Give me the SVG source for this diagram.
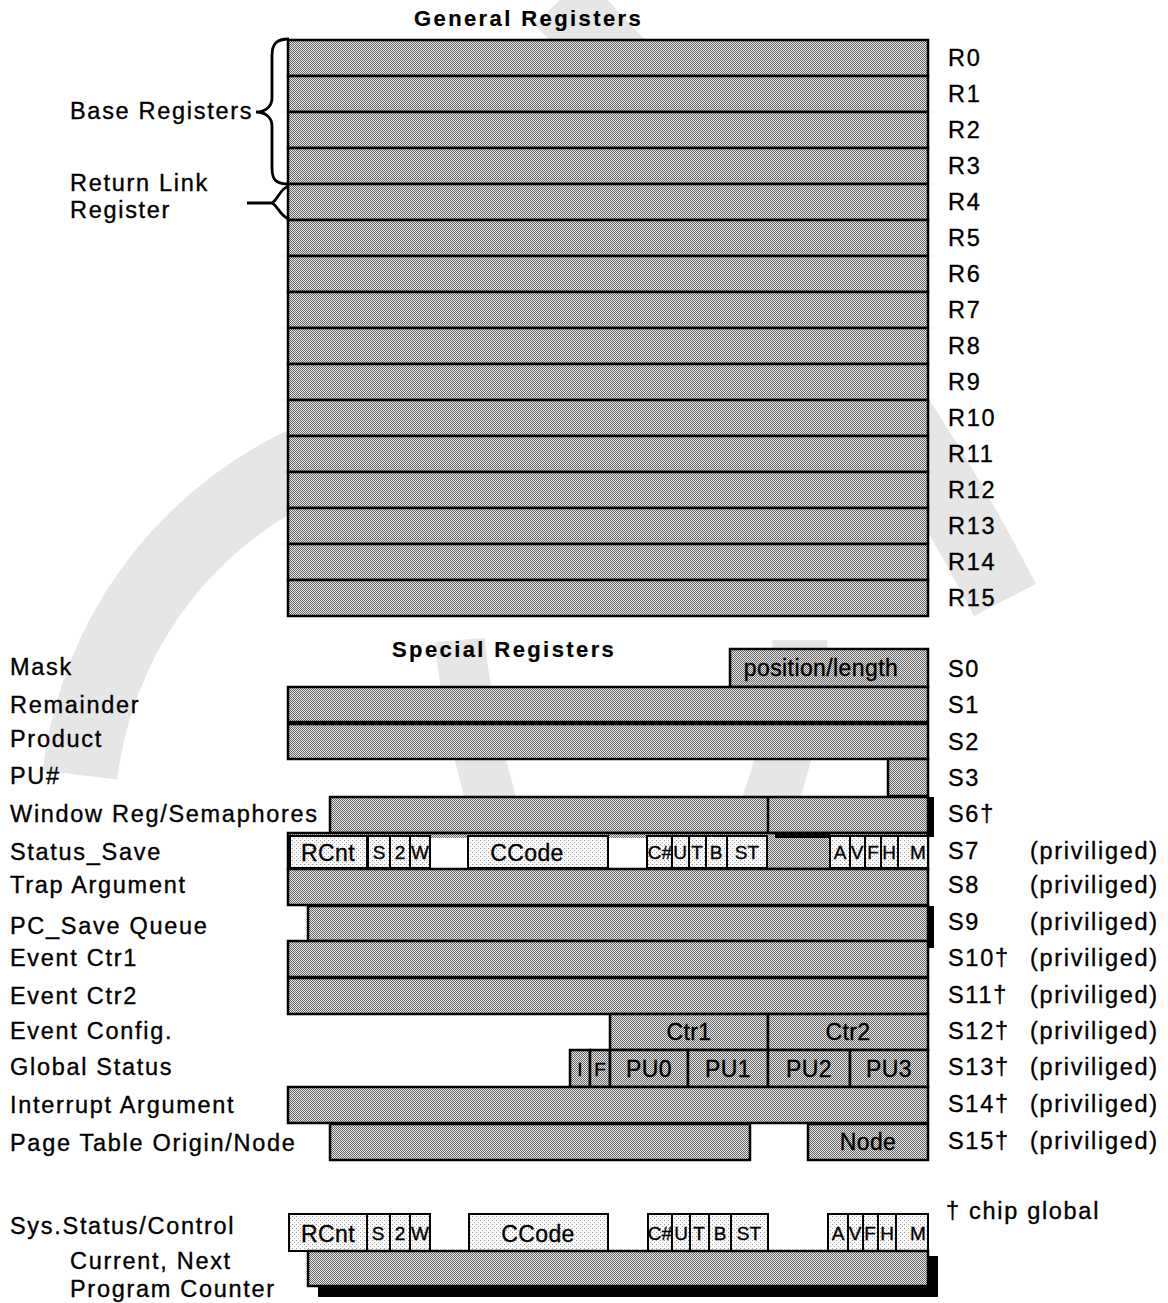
<svg xmlns="http://www.w3.org/2000/svg" width="1168" height="1303" viewBox="0 0 1168 1303">
<defs>
<pattern id="dot" width="2" height="2" patternUnits="userSpaceOnUse"><rect width="2" height="2" fill="#e8e8e8"/><rect width="1" height="1" fill="#666"/><rect x="1" y="1" width="1" height="1" fill="#666"/></pattern>
<pattern id="lite" width="4" height="4" patternUnits="userSpaceOnUse"><rect width="4" height="4" fill="#fafafa"/><rect width="1" height="1" fill="#9a9a9a"/><rect x="2" y="2" width="1" height="1" fill="#b0b0b0"/></pattern>
<style>
text{font-family:"Liberation Sans",Arial,sans-serif;font-size:23.5px;fill:#000;stroke:#000;stroke-width:0.35;letter-spacing:1.7px}
.t{font-weight:bold;font-size:22px;letter-spacing:2.4px;stroke-width:0.2}
.c{text-anchor:middle;letter-spacing:0.4px;font-size:23px}
.sm{font-size:19px;text-anchor:middle;letter-spacing:0}
.r{fill:url(#dot);stroke:#000;stroke-width:2.5}
.f{fill:url(#lite);stroke:#000;stroke-width:2}
.w{fill:#fff;stroke:none}
.blk{fill:#000}
.br{fill:none;stroke:#000;stroke-width:2.8}
</style>
</defs>
<rect width="1168" height="1303" fill="#fff"/>

<g id="watermark" fill="none" stroke="#808080" stroke-opacity="0.2">
<path d="M80,775 A395,395 0 0 1 420,430" stroke-width="75"/>
<path d="M560,0 C700,150 860,320 1005,600" stroke-width="70"/>
<path d="M420,60 C400,200 420,330 470,430" stroke-width="60"/>
<path d="M460,640 C470,760 520,900 560,1000" stroke-width="50"/>
<path d="M800,640 C800,800 700,950 615,1150" stroke-width="55"/>
</g>

<g id="general-registers">
<text class="t" x="414" y="26">General Registers</text>
<rect class="r" x="288" y="40" width="640" height="36"/>
<rect class="r" x="288" y="76" width="640" height="36"/>
<rect class="r" x="288" y="112" width="640" height="36"/>
<rect class="r" x="288" y="148" width="640" height="36"/>
<rect class="r" x="288" y="184" width="640" height="36"/>
<rect class="r" x="288" y="220" width="640" height="36"/>
<rect class="r" x="288" y="256" width="640" height="36"/>
<rect class="r" x="288" y="292" width="640" height="36"/>
<rect class="r" x="288" y="328" width="640" height="36"/>
<rect class="r" x="288" y="364" width="640" height="36"/>
<rect class="r" x="288" y="400" width="640" height="36"/>
<rect class="r" x="288" y="436" width="640" height="36"/>
<rect class="r" x="288" y="472" width="640" height="36"/>
<rect class="r" x="288" y="508" width="640" height="36"/>
<rect class="r" x="288" y="544" width="640" height="36"/>
<rect class="r" x="288" y="580" width="640" height="36"/>
<text x="948" y="66">R0</text>
<text x="948" y="102">R1</text>
<text x="948" y="138">R2</text>
<text x="948" y="174">R3</text>
<text x="948" y="210">R4</text>
<text x="948" y="246">R5</text>
<text x="948" y="282">R6</text>
<text x="948" y="318">R7</text>
<text x="948" y="354">R8</text>
<text x="948" y="390">R9</text>
<text x="948" y="426">R10</text>
<text x="948" y="462">R11</text>
<text x="948" y="498">R12</text>
<text x="948" y="534">R13</text>
<text x="948" y="570">R14</text>
<text x="948" y="606">R15</text>
</g>

<g id="base-registers">
<path class="br" d="M289,39 C276,39 272,44 272,56 L272,98 C272,106 266,112 256,112 C266,112 272,118 272,126 L272,168 C272,180 276,184 289,184"/>
<text x="70" y="119">Base Registers</text>
</g>
<g id="return-link">
<path class="br" d="M289,186 C280,188 278,200 272,203 L247,203 M272,203 C278,206 280,216 289,219"/>
<text x="70" y="191">Return Link</text>
<text x="70" y="218">Register</text>
</g>

<g id="special-registers">
<text class="t" x="392" y="657">Special Registers</text>
</g>

<g id="S0">
<text x="10" y="675">Mask</text>
<rect class="r" x="730" y="649" width="198" height="38"/>
<text class="c" x="821" y="676">position/length</text>
<text x="948" y="677">S0</text>
</g>
<g id="S1">
<text x="10" y="713">Remainder</text>
<rect class="r" x="288" y="687" width="640" height="35" stroke-width="3"/>
<text x="948" y="713">S1</text>
</g>
<g id="S2">
<text x="10" y="747">Product</text>
<rect class="r" x="288" y="724" width="640" height="35"/>
<text x="948" y="750">S2</text>
</g>
<g id="S3">
<text x="10" y="784">PU#</text>
<rect class="r" x="888" y="759" width="40" height="37"/>
<text x="948" y="786">S3</text>
</g>
<g id="S6">
<text x="10" y="822">Window Reg/Semaphores</text>
<rect class="r" x="330" y="797" width="598" height="36"/>
<line x1="768" y1="797" x2="768" y2="833" stroke="#000" stroke-width="2.5"/>
<rect class="blk" x="928" y="797" width="6" height="40"/>
<text x="948" y="822">S6†</text>
</g>
<g id="S7">
<text x="10" y="860">Status_Save</text>
<rect class="r" x="288" y="833" width="640" height="36" stroke-width="3"/>
<rect class="f" x="290" y="836" width="77" height="32"/>
<rect class="f" x="368" y="836" width="22" height="32"/>
<rect class="f" x="390" y="836" width="20" height="32"/>
<rect class="f" x="410" y="836" width="20" height="32"/>
<rect class="w" x="431" y="838" width="37" height="31"/>
<rect class="f" x="468" y="836" width="140" height="32"/>
<rect class="w" x="609" y="838" width="38" height="31"/>
<rect class="f" x="647" y="836" width="25" height="32"/>
<rect class="f" x="672" y="836" width="17" height="32"/>
<rect class="f" x="689" y="836" width="17" height="32"/>
<rect class="f" x="706" y="836" width="21" height="32"/>
<rect class="f" x="727" y="836" width="40" height="32"/>
<rect class="blk" x="775" y="832" width="55" height="6"/>
<rect class="f" x="830" y="836" width="20" height="32"/>
<rect class="f" x="850" y="836" width="15" height="32"/>
<rect class="f" x="865" y="836" width="16" height="32"/>
<rect class="f" x="881" y="836" width="17" height="32"/>
<rect class="f" x="898" y="836" width="30" height="32"/>
<text class="c" x="328" y="861">RCnt</text>
<text class="sm" x="379" y="859">S</text>
<text class="sm" x="400" y="859">2</text>
<text class="sm" x="420" y="859">W</text>
<text class="c" x="527" y="861">CCode</text>
<text class="sm" x="660" y="859">C#</text>
<text class="sm" x="680" y="859">U</text>
<text class="sm" x="697" y="859">T</text>
<text class="sm" x="716" y="859">B</text>
<text class="sm" x="747" y="859">ST</text>
<text class="sm" x="840" y="859">A</text>
<text class="sm" x="857" y="859">V</text>
<text class="sm" x="873" y="859">F</text>
<text class="sm" x="889" y="859">H</text>
<text class="sm" x="918" y="859">M</text>
<text x="948" y="859">S7</text>
<text x="1030" y="859">(priviliged)</text>
</g>
<g id="S8">
<text x="10" y="893">Trap Argument</text>
<rect class="r" x="288" y="869" width="640" height="36"/>
<text x="948" y="893">S8</text>
<text x="1030" y="893">(priviliged)</text>
</g>
<g id="S9">
<text x="10" y="934">PC_Save Queue</text>
<rect class="r" x="308" y="906" width="620" height="35"/>
<rect class="blk" x="928" y="906" width="6" height="42"/>
<text x="948" y="930">S9</text>
<text x="1030" y="930">(priviliged)</text>
</g>
<g id="S10">
<text x="10" y="966">Event Ctr1</text>
<rect class="r" x="288" y="941" width="640" height="36"/>
<text x="948" y="966">S10†</text>
<text x="1030" y="966">(priviliged)</text>
</g>
<g id="S11">
<text x="10" y="1004">Event Ctr2</text>
<rect class="r" x="288" y="978" width="640" height="36"/>
<text x="948" y="1003">S11†</text>
<text x="1030" y="1003">(priviliged)</text>
</g>
<g id="S12">
<text x="10" y="1039">Event Config.</text>
<rect class="r" x="610" y="1014" width="158" height="36"/>
<rect class="r" x="768" y="1014" width="160" height="36"/>
<text class="c" x="689" y="1040">Ctr1</text>
<text class="c" x="848" y="1040">Ctr2</text>
<text x="948" y="1039">S12†</text>
<text x="1030" y="1039">(priviliged)</text>
</g>
<g id="S13">
<text x="10" y="1075">Global Status</text>
<rect class="r" x="570" y="1050" width="20" height="37"/>
<rect class="r" x="590" y="1050" width="20" height="37"/>
<rect class="r" x="610" y="1050" width="78" height="37"/>
<rect class="r" x="688" y="1050" width="80" height="37"/>
<rect class="r" x="768" y="1050" width="82" height="37"/>
<rect class="r" x="850" y="1050" width="78" height="37"/>
<text class="sm" x="580" y="1076">I</text>
<text class="sm" x="600" y="1076">F</text>
<text class="c" x="649" y="1077">PU0</text>
<text class="c" x="728" y="1077">PU1</text>
<text class="c" x="809" y="1077">PU2</text>
<text class="c" x="889" y="1077">PU3</text>
<text x="948" y="1075">S13†</text>
<text x="1030" y="1075">(priviliged)</text>
</g>
<g id="S14">
<text x="10" y="1113">Interrupt Argument</text>
<rect class="r" x="288" y="1087" width="640" height="36"/>
<text x="948" y="1112">S14†</text>
<text x="1030" y="1112">(priviliged)</text>
</g>
<g id="S15">
<text x="10" y="1151">Page Table Origin/Node</text>
<rect class="r" x="330" y="1124" width="420" height="36"/>
<rect class="r" x="808" y="1124" width="120" height="36"/>
<text class="c" x="868" y="1150">Node</text>
<text x="948" y="1149">S15†</text>
<text x="1030" y="1149">(priviliged)</text>
</g>

<g id="chip-global">
<text x="946" y="1219">† chip global</text>
</g>

<g id="sys-status">
<text x="10" y="1234">Sys.Status/Control</text>
<rect class="f" x="289" y="1214" width="78" height="37" stroke-width="2.5"/>
<rect class="f" x="367" y="1214" width="23" height="37" stroke-width="2.5"/>
<rect class="f" x="390" y="1214" width="20" height="37" stroke-width="2.5"/>
<rect class="f" x="410" y="1214" width="20" height="37" stroke-width="2.5"/>
<rect class="f" x="469" y="1214" width="139" height="37" stroke-width="2.5"/>
<rect class="f" x="648" y="1214" width="24" height="37" stroke-width="2.5"/>
<rect class="f" x="672" y="1214" width="18" height="37" stroke-width="2.5"/>
<rect class="f" x="690" y="1214" width="19" height="37" stroke-width="2.5"/>
<rect class="f" x="709" y="1214" width="22" height="37" stroke-width="2.5"/>
<rect class="f" x="731" y="1214" width="37" height="37" stroke-width="2.5"/>
<rect class="f" x="828" y="1214" width="20" height="37" stroke-width="2.5"/>
<rect class="f" x="848" y="1214" width="15" height="37" stroke-width="2.5"/>
<rect class="f" x="863" y="1214" width="15" height="37" stroke-width="2.5"/>
<rect class="f" x="878" y="1214" width="18" height="37" stroke-width="2.5"/>
<rect class="f" x="896" y="1214" width="32" height="37" stroke-width="2.5"/>
<text class="c" x="328" y="1242">RCnt</text>
<text class="sm" x="378" y="1240">S</text>
<text class="sm" x="400" y="1240">2</text>
<text class="sm" x="420" y="1240">W</text>
<text class="c" x="538" y="1242">CCode</text>
<text class="sm" x="660" y="1240">C#</text>
<text class="sm" x="681" y="1240">U</text>
<text class="sm" x="699" y="1240">T</text>
<text class="sm" x="720" y="1240">B</text>
<text class="sm" x="749" y="1240">ST</text>
<text class="sm" x="838" y="1240">A</text>
<text class="sm" x="855" y="1240">V</text>
<text class="sm" x="870" y="1240">F</text>
<text class="sm" x="887" y="1240">H</text>
<text class="sm" x="918" y="1240">M</text>
</g>
<g id="program-counter">
<text x="70" y="1269">Current, Next</text>
<text x="70" y="1297">Program Counter</text>
<rect class="blk" x="318" y="1256" width="620" height="41"/>
<rect class="r" x="308" y="1251" width="620" height="35"/>
</g>
</svg>
